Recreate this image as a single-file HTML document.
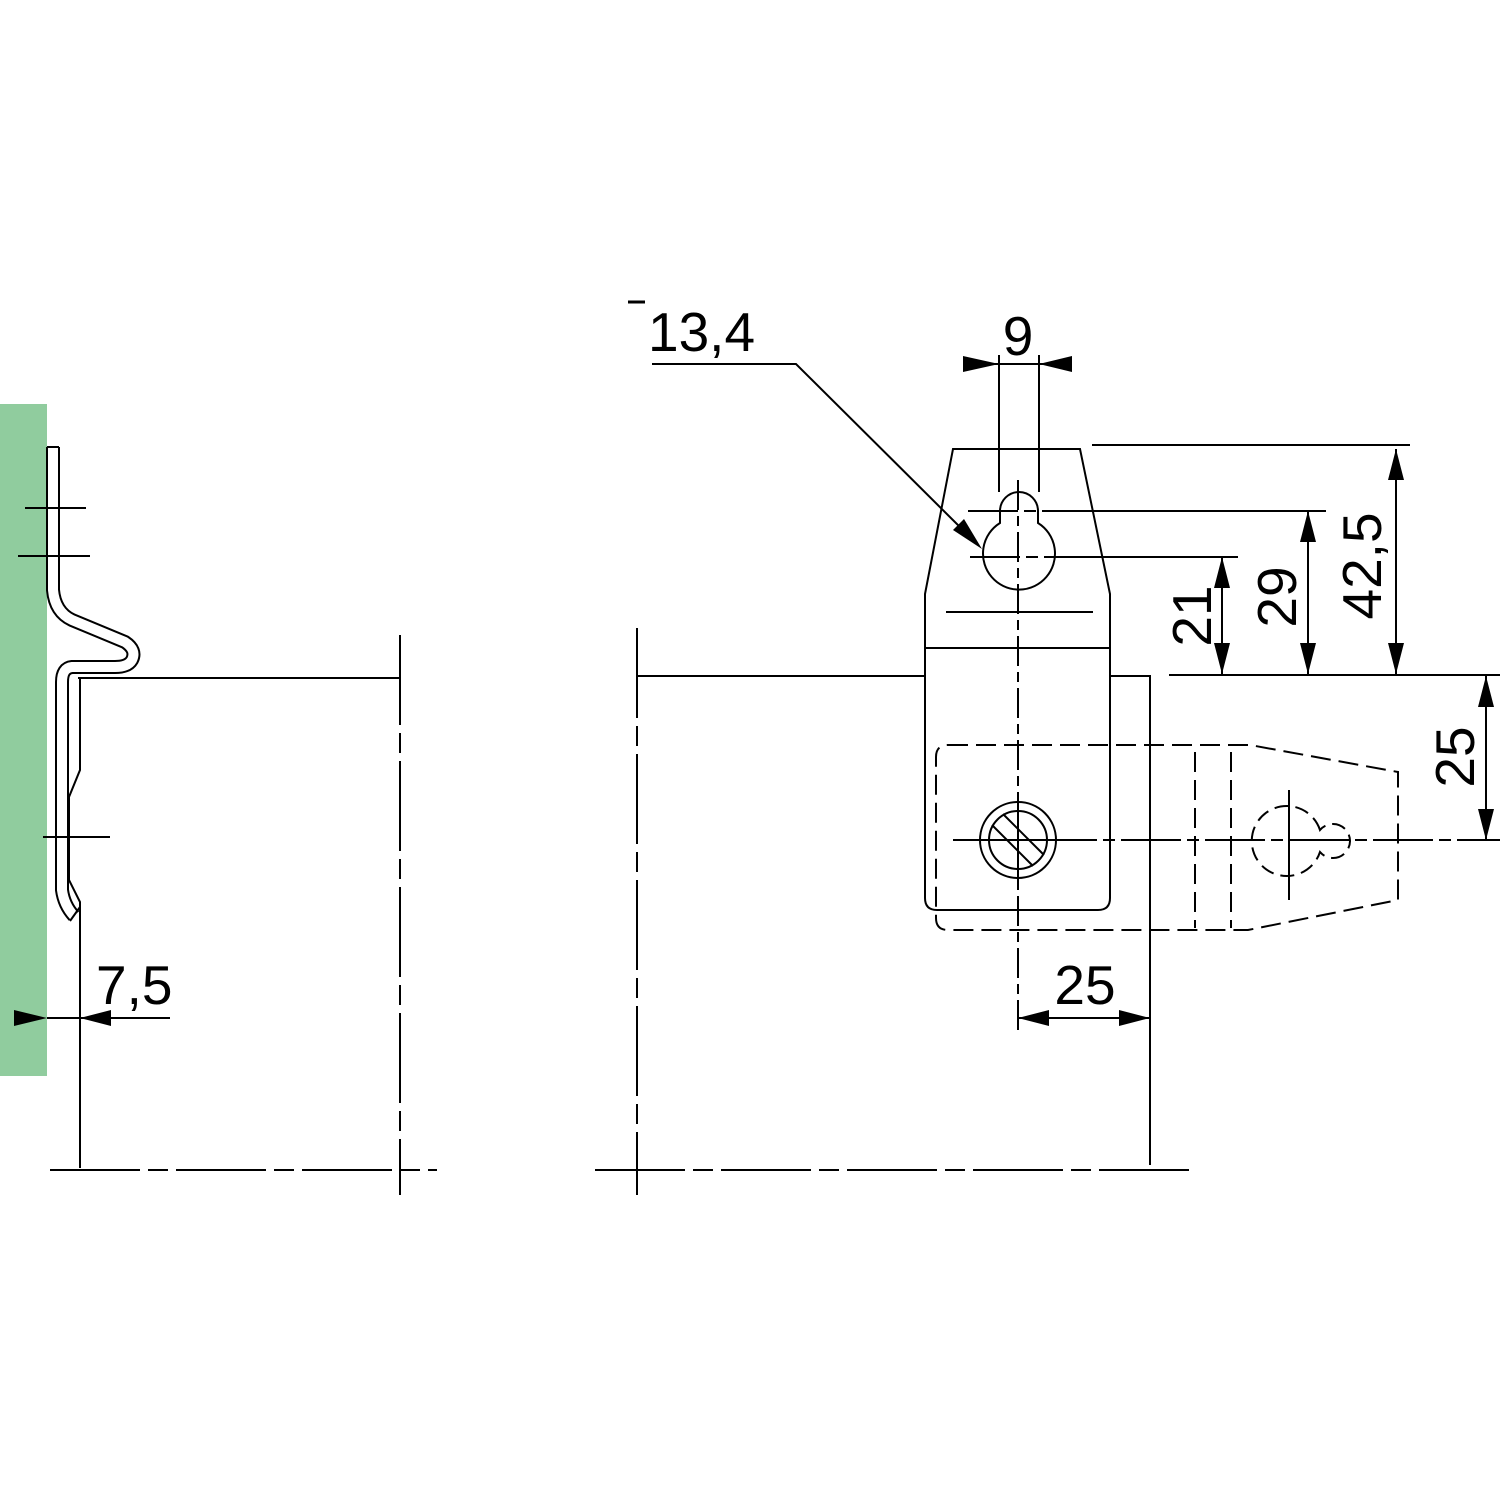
<!DOCTYPE html>
<html><head><meta charset="utf-8"><style>html,body{margin:0;padding:0;background:#fff}svg{display:block}</style></head><body>
<svg width="1500" height="1500" viewBox="0 0 1500 1500" xmlns="http://www.w3.org/2000/svg" font-family="Liberation Sans, Arial, sans-serif">
<rect x="0" y="0" width="1500" height="1500" fill="#fff"/>
<rect x="0" y="404" width="47" height="672" fill="#90cc9e"/>
<g fill="none" stroke="#000" stroke-width="2">
<path d="M53,447 L53,590 Q55,612 72,620 L125,642 Q137,650 132,660 Q128,667 115,667 L72,667 Q62,668 62,682 L62,890 Q64,905 74,916" stroke-width="14" stroke-linejoin="round"/>
<path d="M53,447 L53,590 Q55,612 72,620 L125,642 Q137,650 132,660 Q128,667 115,667 L72,667 Q62,668 62,682 L62,890 Q64,905 74,916" stroke="#fff" stroke-width="10" stroke-linejoin="round"/>
<path d="M47,447 L59,447"/>
<path d="M70,921 L80,907"/>
<path d="M78,678 L400,678"/>
<path d="M80,678 L80,770 L69,797 L69,880 L80,902 L80,1168"/>
<path d="M25,508 L86,508 M18,556 L90,556 M43,837 L110,837"/>
<path d="M400,635 L400,1195" stroke-dasharray="90 8 20 8"/>
<path d="M50,1170 L437,1170" stroke-dasharray="90 8 20 8"/>
<path d="M47,1018 L170,1018"/>
<path d="M638,676 L925,676 M1110,676 L1150,676 L1150,1165"/>
<path d="M637,628 L637,1195" stroke-dasharray="90 8 20 8"/>
<path d="M595,1170 L1190,1170" stroke-dasharray="90 8 20 8"/>
<path d="M953,449 L1080,449 L1110,594 L1110,898 Q1110,910 1098,910 L937,910 Q925,910 925,898 L925,594 Z" fill="#fff"/>
<path d="M925,648 L1110,648 M946,612 L1093,612"/>
<path d="M1000,523 L1000,511 A19,19 0 0 1 1038,511 L1038,523 A36,36 0 1 1 1000,523 Z"/>
<path d="M1018,480 L1018,1030" stroke-dasharray="30 6 10 6"/>
<path d="M968,511 L1326,511 M970,557 L1238,557" stroke-dasharray="50 6 12 6"/>
<path d="M999,355 L999,492 M1039,355 L1039,492 M963,364 L1072,364"/>
<path d="M948,745 L1250,745 L1398,772 L1398,900 L1248,930 L948,930 Q936,930 936,918 L936,757 Q936,745 948,745 Z" stroke-dasharray="20 8"/>
<path d="M1195,752 L1195,928 M1231,752 L1231,928" stroke-dasharray="20 8"/>
<path d="M1320,830 A35,35 0 1 0 1320,852 A17,17 0 1 0 1320,830 Z" stroke-dasharray="14 7"/>
<path d="M1289,790 L1289,900"/>
<path d="M953,840 L1500,840" stroke-dasharray="60 6 12 6"/>
<circle cx="1018" cy="840" r="38" fill="#fff"/>
<circle cx="1018" cy="840" r="29"/>
<path d="M992,825 L1033,866 M1003,814 L1044,855"/>
<path d="M953,840 L1060,840 M1018,800 L1018,880"/>
<path d="M1092,445 L1410,445 M1058,511 L1326,511 M1092,557 L1238,557 M1169,675 L1500,675"/>
<path d="M1396,449 L1396,674 M1308,511 L1308,674 M1222,557 L1222,674 M1486,676 L1486,840"/>
<path d="M1018,1018 L1150,1018"/>
<path d="M652,364 L796,364 L970,537"/>
<path d="M628,302 L645,302" stroke-width="3"/>
</g>
<g fill="#000">
<path d="M1396,449 L1388,480 L1404,480 Z M1396,674 L1388,643 L1404,643 Z"/>
<path d="M1308,511 L1300,542 L1316,542 Z M1308,674 L1300,643 L1316,643 Z"/>
<path d="M1222,557 L1214,588 L1230,588 Z M1222,674 L1214,643 L1230,643 Z"/>
<path d="M1486,676 L1478,707 L1494,707 Z M1486,840 L1478,809 L1494,809 Z"/>
<path d="M1018,1018 L1049,1010 L1049,1026 Z M1150,1018 L1119,1010 L1119,1026 Z"/>
<path d="M999,364 L963,356 L963,372 Z M1039,364 L1072,356 L1072,372 Z"/>
<path d="M47,1018 L14,1010 L14,1026 Z M80,1018 L111,1010 L111,1026 Z"/>
<path d="M982,549 L953,530 L964,519 Z"/>
</g>
<g font-size="55" fill="#000">
<text x="648" y="351">13,4</text>
<text x="1018" y="355" text-anchor="middle">9</text>
<text x="96" y="1004">7,5</text>
<text x="1085" y="1004" text-anchor="middle">25</text>
<text transform="translate(1211,616) rotate(-90)" text-anchor="middle">21</text>
<text transform="translate(1296,597) rotate(-90)" text-anchor="middle">29</text>
<text transform="translate(1381,566) rotate(-90)" text-anchor="middle">42,5</text>
<text transform="translate(1474,757) rotate(-90)" text-anchor="middle">25</text>
</g>
</svg>
</body></html>
